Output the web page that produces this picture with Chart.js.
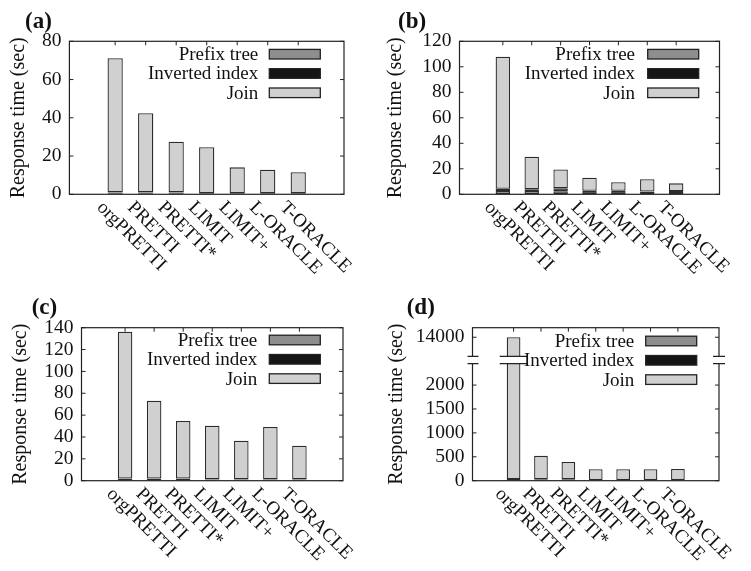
<!DOCTYPE html>
<html>
<head>
<meta charset="utf-8">
<script src="https://cdn.jsdelivr.net/npm/chart.js@4.4.0/dist/chart.umd.min.js"></script>
<style>
  body { margin: 0; background: #fff; }
  #page { position: relative; width: 751px; height: 571px; overflow: hidden; }
  canvas { position: absolute; }
</style>
</head>
<body>
<div id="page">
  <canvas id="chartA" width="375" height="285" style="left:0;top:0"></canvas>
  <canvas id="chartB" width="376" height="285" style="left:375px;top:0"></canvas>
  <canvas id="chartC" width="375" height="286" style="left:0;top:285px"></canvas>
  <canvas id="chartD" width="376" height="286" style="left:375px;top:285px"></canvas>
</div>
<script>
const categories = ["orgPRETTI", "PRETTI", "PRETTI*", "LIMIT", "LIMIT+", "L-ORACLE", "T-ORACLE"];
const seriesNames = ["Prefix tree", "Inverted index", "Join"];

// (a)
const prefixA = [0.3, 0.3, 0.3, 0.1, 0.1, 0.1, 0.1];
const invertedA = [0.7, 0.7, 0.7, 0.4, 0.4, 0.4, 0.4];
const joinA = [70.1, 41.4, 26.5, 24.1, 13.6, 12.4, 11.0];
const yTicksA = [0, 20, 40, 60, 80];

// (b)
const prefixB = [2.5, 2.5, 2.3, 0.3, 0.3, 0.3, 0.3];
const invertedB = [1.8, 1.5, 2.5, 2.5, 2.5, 1.8, 2.2];
const joinB = [103.6, 25.5, 14.7, 10.2, 6.6, 9.7, 6.1];
const yTicksB = [0, 20, 40, 60, 80, 100, 120];

// (c)
const prefixC = [0.4, 0.4, 0.4, 0.2, 0.2, 0.2, 0.2];
const invertedC = [1.6, 1.6, 1.6, 1.0, 1.0, 1.0, 1.0];
const joinC = [134.3, 71.2, 52.6, 49.1, 35.4, 47.9, 30.8];
const yTicksC = [0, 20, 40, 60, 80, 100, 120, 140];

// (d) - broken y axis
const prefixD = [10, 10, 10, 3, 3, 3, 3];
const invertedD = [25, 20, 20, 8, 8, 8, 8];
const joinD = [13965, 490, 360, 229, 229, 229, 234];
const yTicksD = [0, 500, 1000, 1500, 2000, 14000];

const fillColors = ["#8e8e8e", "#151515", "#d0d0d0"];
const edgeColor = "#2c2c2c";
const serif = "'Liberation Serif', 'Times New Roman', serif";

// axis break for (d): values up to breakLow drawn as is, values above breakHigh shifted down
const breakLow = 2450, breakHigh = 13600, breakShift = 11000;
function toAxisD(v) {
    return v <= breakLow ? v : v - breakShift;
}

function stackSegments(prefix, inverted, join, toAxis) {
    const segs = [[], [], []];
    prefix.forEach((p, i) => {
        const c = [0, p, p + inverted[i], p + inverted[i] + join[i]];
        for (let k = 0; k < 3; k++) {
            segs[k].push({ x: i, y: toAxis(c[k + 1]) - toAxis(c[k]) });
        }
    });
    return segs;
}

function makePanel(canvasId, p) {
    const canvas = document.getElementById(canvasId);
    const W = canvas.width, H = canvas.height;
    const toAxis = p.toAxis || (v => v);
    const segs = stackSegments(p.prefix, p.inverted, p.join, toAxis);

    const frame = {
        id: "frame",
        beforeDatasetsDraw(chart) {
            const { ctx, chartArea: a, scales } = chart;
            ctx.save();
            ctx.strokeStyle = "#222";
            ctx.lineWidth = 1;
            scales.y.ticks.forEach(t => {
                const y = scales.y.getPixelForValue(t.value);
                ctx.beginPath();
                ctx.moveTo(a.left, y); ctx.lineTo(a.left + 4, y);
                ctx.moveTo(a.right, y); ctx.lineTo(a.right - 4, y);
                ctx.stroke();
            });
            categories.forEach((c, i) => {
                const x = scales.x.getPixelForValue(i);
                ctx.beginPath();
                ctx.moveTo(x, a.top); ctx.lineTo(x, a.top + 4);
                ctx.stroke();
            });
            ctx.restore();
        },
        afterDatasetsDraw(chart) {
            const { ctx, chartArea: a, scales } = chart;
            ctx.save();
            ctx.strokeStyle = "#222";
            ctx.lineWidth = 1.2;
            ctx.strokeRect(a.left, a.top, a.right - a.left, a.bottom - a.top);

            if (p.axisBreak) {
                const y1 = scales.y.getPixelForValue(p.axisBreak[0]);
                const y2 = scales.y.getPixelForValue(p.axisBreak[1]);
                const bar = chart.getDatasetMeta(2).data[0];
                const spans = [
                    [a.left - 5, a.left + 6],
                    [bar.x - bar.width / 2 - 7, bar.x + bar.width / 2 + 7],
                    [a.right - 6, a.right + 6]
                ];
                spans.forEach(([x1, x2]) => {
                    ctx.fillStyle = "#fff";
                    ctx.fillRect(x1, y2, x2 - x1, y1 - y2);
                    ctx.beginPath();
                    ctx.moveTo(x1, y1); ctx.lineTo(x2, y1);
                    ctx.moveTo(x1, y2); ctx.lineTo(x2, y2);
                    ctx.stroke();
                });
            }

            // legend, gnuplot style: text right-aligned, swatch on the right
            ctx.font = "19px " + serif;
            ctx.textAlign = "right";
            ctx.textBaseline = "middle";
            seriesNames.forEach((name, k) => {
                const y = p.legend.y0 + k * 19.3;
                ctx.fillStyle = "#111";
                ctx.fillText(name, p.legend.textRight, y + 1);
                ctx.fillStyle = fillColors[k];
                ctx.fillRect(p.legend.swatchLeft, y - 4.8, 51, 9.6);
                ctx.lineWidth = 1.3;
                ctx.strokeStyle = "#222";
                ctx.strokeRect(p.legend.swatchLeft, y - 4.8, 51, 9.6);
            });
            ctx.restore();
        },
        afterDraw(chart) {
            const { ctx, chartArea: a, scales } = chart;
            ctx.save();
            ctx.fillStyle = "#111";
            ctx.font = "19px " + serif;
            ctx.textAlign = "left";
            ctx.textBaseline = "alphabetic";
            categories.forEach((c, i) => {
                const x = scales.x.getPixelForValue(i);
                ctx.save();
                ctx.translate(x - 19, a.bottom + 14);
                ctx.rotate(Math.PI / 4);
                ctx.fillText(c, 0, 0);
                ctx.restore();
            });

            ctx.save();
            ctx.translate(p.yTitleX, (a.top + a.bottom) / 2);
            ctx.rotate(-Math.PI / 2);
            ctx.textAlign = "center";
            ctx.textBaseline = "middle";
            ctx.font = "20px " + serif;
            ctx.fillText("Response time (sec)", 0, 0);
            ctx.restore();

            ctx.font = "bold 23px " + serif;
            ctx.fillText(p.label, p.labelX, p.labelY);
            ctx.restore();
        }
    };

    new Chart(canvas.getContext("2d"), {
        type: "bar",
        data: {
            datasets: seriesNames.map((name, k) => ({
                label: name,
                data: segs[k],
                backgroundColor: fillColors[k],
                borderColor: edgeColor,
                borderWidth: 1.3,
                borderSkipped: false,
                barPercentage: 0.5,
                categoryPercentage: 1
            }))
        },
        options: {
            responsive: false,
            animation: false,
            devicePixelRatio: 1,
            layout: { padding: { left: 0, top: p.area.top, right: W - p.area.right, bottom: 0 } },
            plugins: { legend: { display: false }, tooltip: { enabled: false } },
            scales: {
                x: {
                    type: "linear",
                    stacked: true,
                    min: -1,
                    max: 7,
                    ticks: { display: false, stepSize: 1 },
                    grid: { display: false, drawTicks: false },
                    border: { display: false },
                    afterFit: s => { s.height = H - p.area.bottom; }
                },
                y: {
                    stacked: true,
                    min: 0,
                    max: toAxis(p.yTop),
                    afterBuildTicks: s => { s.ticks = p.yTicks.map(v => ({ value: toAxis(v) })); },
                    afterFit: s => { s.width = p.area.left; },
                    grid: { display: false, drawTicks: false },
                    border: { display: false },
                    ticks: {
                        autoSkip: false,
                        padding: 8,
                        color: "#111",
                        font: { family: serif, size: 19.5 },
                        callback: (v, i) => String(p.yTicks[i])
                    }
                }
            }
        },
        plugins: [frame]
    });
}

makePanel("chartA", {
    prefix: prefixA, inverted: invertedA, join: joinA, yTicks: yTicksA, yTop: 80,
    area: { left: 69.4, top: 41.3, right: 344, bottom: 194.3 },
    label: "(a)", labelX: 25, labelY: 28, yTitleX: 19,
    legend: { textRight: 258.3, swatchLeft: 269.3, y0: 54.2 }
});
makePanel("chartB", {
    prefix: prefixB, inverted: invertedB, join: joinB, yTicks: yTicksB, yTop: 120,
    area: { left: 84.5, top: 41.3, right: 344.5, bottom: 194.3 },
    label: "(b)", labelX: 23, labelY: 28, yTitleX: 21,
    legend: { textRight: 260, swatchLeft: 272.7, y0: 54.2 }
});
makePanel("chartC", {
    prefix: prefixC, inverted: invertedC, join: joinC, yTicks: yTicksC, yTop: 140,
    area: { left: 81.5, top: 42.7, right: 343, bottom: 195.7 },
    label: "(c)", labelX: 31.7, labelY: 28.5, yTitleX: 21,
    legend: { textRight: 257.3, swatchLeft: 269.3, y0: 55 }
});
makePanel("chartD", {
    prefix: prefixD, inverted: invertedD, join: joinD, yTicks: yTicksD, yTop: 14200,
    toAxis: toAxisD, axisBreak: [breakLow, breakHigh - breakShift],
    area: { left: 97.5, top: 42.7, right: 344, bottom: 195.7 },
    label: "(d)", labelX: 31.7, labelY: 28.5, yTitleX: 22,
    legend: { textRight: 259.3, swatchLeft: 270.7, y0: 56 }
});
</script>
</body>
</html>
